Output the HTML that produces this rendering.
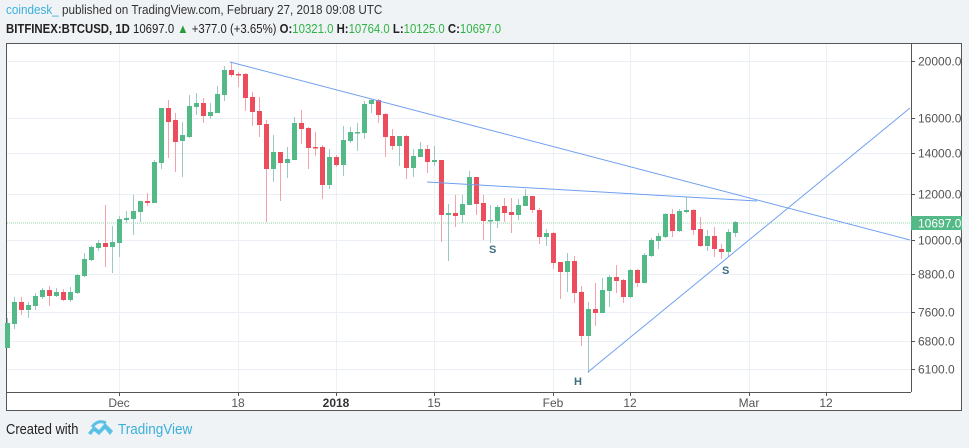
<!DOCTYPE html>
<html><head><meta charset="utf-8">
<style>
body{margin:0;width:969px;height:448px;background:#f0f3f6;font-family:"Liberation Sans",Arial,sans-serif;overflow:hidden;position:relative}
.h1{position:absolute;left:6px;top:2px;font-size:13px;color:#333;white-space:nowrap;transform:scaleX(0.9);transform-origin:0 0}
.h2{position:absolute;left:6px;top:21px;font-size:13px;color:#222;white-space:nowrap;transform:scaleX(0.875);transform-origin:0 0}
.g{color:#2fb344}
.foot{position:absolute;left:6px;top:421px;font-size:15px;color:#222;white-space:nowrap;transform:scaleX(0.86);transform-origin:0 0}
.tv{position:absolute;left:118px;top:421px;font-size:15px;color:#3bafda;white-space:nowrap;transform:scaleX(0.9);transform-origin:0 0}
</style></head><body>
<div class="h1"><span style="color:#3bafda">coindesk_</span> published on TradingView.com, February 27, 2018 09:08 UTC</div>
<div class="h2"><b>BITFINEX:BTCUSD, 1D</b> 10697.0 <span style="color:#2a9d3a">&#9650;</span> +377.0 (+3.65%) <b>O:</b><span class="g">10321.0</span> <b>H:</b><span class="g">10764.0</span> <b>L:</b><span class="g">10125.0</span> <b>C:</b><span class="g">10697.0</span></div>
<svg id="s" width="969" height="448" style="position:absolute;left:0;top:0" xmlns="http://www.w3.org/2000/svg">
<rect x="6.5" y="43.5" width="955" height="367" fill="#fff" stroke="#555" stroke-width="1"/>
<g id="grid" stroke="#eaf0f5" stroke-width="1"></g>
<line x1="911.5" y1="43" x2="911.5" y2="392" stroke="#555"/>
<line x1="6" y1="392.5" x2="911" y2="392.5" stroke="#555"/>
<line x1="7" y1="223" x2="911" y2="223" stroke="#8fd6a6" stroke-dasharray="1,1"/>
<g id="c"></g>
<g stroke="#6f9ff0" stroke-width="1" fill="none">
<line x1="230" y1="62" x2="910" y2="240"/>
<line x1="427" y1="182" x2="757" y2="201"/>
<line x1="588" y1="372" x2="910" y2="108"/>
</g>
<g font-family="Liberation Sans,Arial,sans-serif" font-weight="bold" font-size="11" fill="#3d6f80">
<text x="489" y="253">S</text><text x="722" y="274">S</text><text x="574" y="385">H</text>
</g>
<g id="ax" font-family="Liberation Sans,Arial,sans-serif" font-size="12" fill="#555"></g>
<rect x="911" y="216" width="51" height="14" fill="#53b987"/>
<text x="918" y="227.5" font-family="Liberation Sans,Arial,sans-serif" font-size="12" fill="#fff">10697.0</text>
<g transform="translate(88,421)"><path d="M0 12 L6 5 L11 9 L17 2 L25 10 L22 14 L17 8 L11 14 L6 10 L3 14Z" fill="#5bc0e6"/><path d="M4 6 Q10 -2 18 2" stroke="#5bc0e6" stroke-width="3" fill="none"/></g>
</svg>
<div class="foot">Created with</div>
<div class="tv">TradingView</div>
<script>
var NS="http://www.w3.org/2000/svg";
function el(p,t,a,txt){var e=document.createElementNS(NS,t);for(var k in a)e.setAttribute(k,a[k]);if(txt)e.textContent=txt;p.appendChild(e);return e;}
var grid=document.getElementById('grid'),ax=document.getElementById('ax');
[[61,"20000.0"],[118,"16000.0"],[153,"14000.0"],[194,"12000.0"],[240,"10000.0"],[274,"8800.0"],[312,"7600.0"],[341,"6800.0"],[369,"6100.0"]].forEach(function(p){
 el(grid,'line',{x1:7,y1:p[0]+.5,x2:911,y2:p[0]+.5});
 el(ax,'line',{x1:911,y1:p[0]+.5,x2:915,y2:p[0]+.5,stroke:'#555'});
 el(ax,'text',{x:918,y:p[0]+4.5},p[1]);
});
[[119,"Dec"],[238,"18"],[336,"2018"],[434,"15"],[553,"Feb"],[630,"12"],[749,"Mar"],[826,"12"]].forEach(function(p){
 el(grid,'line',{x1:p[0]+.5,y1:44,x2:p[0]+.5,y2:392});
 el(ax,'line',{x1:p[0]+.5,y1:392,x2:p[0]+.5,y2:396,stroke:'#555'});
 var t=el(ax,'text',{x:p[0],y:407,'text-anchor':'middle'},p[1]);
 if(p[1]=="2018"){t.setAttribute('font-weight','bold');t.setAttribute('fill','#333');}
});
var d=[
[323,348,318,348,1],[302,324,297,329,1],[302,310,297,315,0],[305,310,302,318,1],[296,306,293,310,1],[290,297,288,299,1],[290,296,286,306,0],[292,296,288,297,1],[292,300,289,301,0],[292,300,287,302,1],
[275,293,274,294,1],[259,276,253,277,1],[247,260,246,261,1],[243,248,240,251,1],[243,247,205,267,0],[242,247,226,273,1],[219,243,216,257,1],[218,220,211,223,1],[211,219,195,235,1],[201,212,201,222,1],
[201,203,193,206,0],[162,203,160,203,1],[108,163,108,169,1],[108,122,100,158,0],[120,142,113,172,0],[135,141,122,177,1],[106,137,95,138,1],[103,107,93,115,1],[103,116,98,123,0],[112,116,103,119,1],
[94,113,86,113,1],[70,95,66,101,1],[70,75,62,77,0],[74,75,72,87,0],[74,98,73,111,0],[97,112,92,126,0],[111,125,97,137,0],[124,169,120,222,0],[152,169,135,182,1],[152,163,152,201,0],
[159,163,147,178,1],[123,160,117,160,1],[123,129,110,144,0],[128,148,127,169,0],[147,148,132,156,0],[147,185,145,199,0],[157,185,149,189,1],[157,165,155,167,0],[140,165,126,176,1],[132,141,127,143,1],
[132,133,123,151,1],[104,133,101,139,1],[100,104,99,113,1],[100,115,99,123,0],[114,137,113,157,0],[136,146,129,150,0],[136,146,136,166,1],[136,168,135,179,0],[156,168,149,177,1],[149,157,142,157,1],
[149,162,145,173,0],[160,162,146,166,1],[160,215,160,242,0],[213,215,204,261,1],[213,216,195,227,0],[204,215,195,223,1],[177,205,171,205,1],[177,204,177,215,0],[203,221,195,240,0],[220,221,205,243,1],
[207,221,205,228,1],[206,213,198,222,0],[212,215,198,233,0],[205,215,199,220,1],[196,206,189,206,1],[196,210,196,213,0],[210,237,208,244,0],[233,237,229,246,1],[233,263,232,269,0],[262,272,262,299,0],
[261,272,253,292,1],[261,293,256,303,0],[292,336,286,346,0],[309,336,302,373,1],[309,313,283,326,0],[290,313,278,313,1],[277,291,275,307,1],[277,281,265,293,0],[280,297,279,303,0],[270,297,269,298,1],
[270,283,269,287,0],[255,283,253,283,1],[240,256,238,257,1],[236,241,233,249,1],[214,237,213,238,1],[214,231,209,237,0],[211,231,209,232,1],[210,212,197,213,1],[210,230,209,235,0],[229,246,217,247,0],
[236,246,230,251,1],[236,249,227,257,0],[249,252,244,259,0],[232,252,229,257,1],[222,233,221,237,1]];
var c=document.getElementById('c');
d.forEach(function(k,i){
 var x=7+i*7, g=k[4];
 el(c,'line',{x1:x+.5,y1:k[2],x2:x+.5,y2:k[3],stroke:g?'#9cc9c4':'#f5a3aa','stroke-width':1});
 el(c,'rect',{x:x-2,y:k[0],width:5,height:Math.max(1.5,k[1]-k[0]),fill:g?'#53b987':'#eb4d5c'});
});
</script>
</body></html>
